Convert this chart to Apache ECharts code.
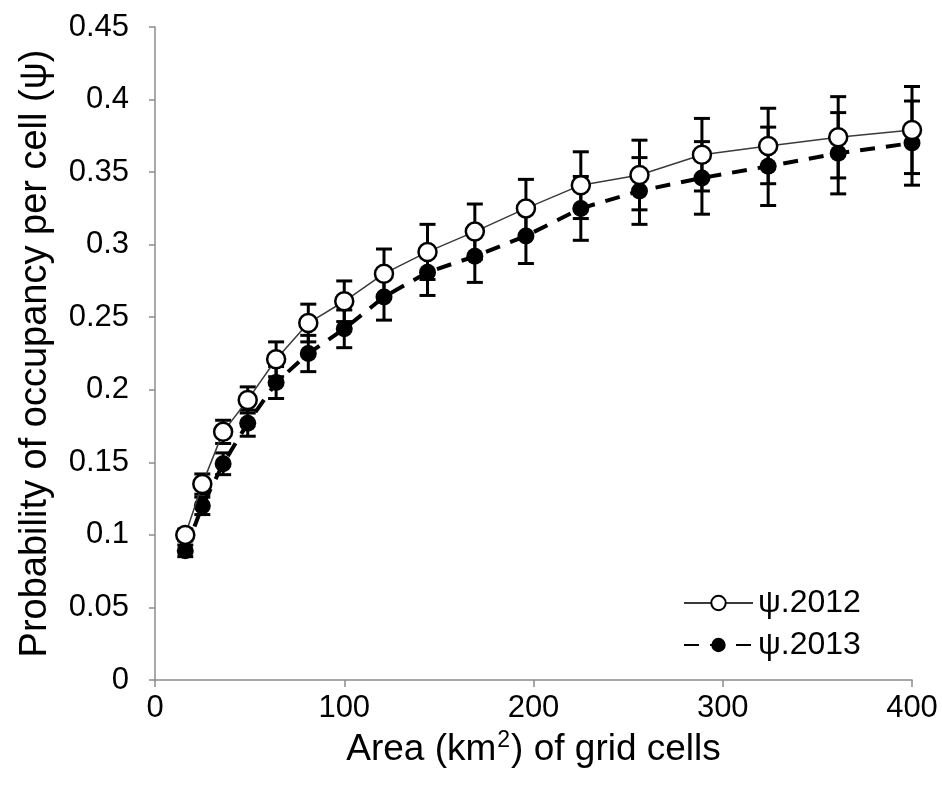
<!DOCTYPE html>
<html>
<head>
<meta charset="utf-8">
<script src="https://cdn.jsdelivr.net/npm/echarts@6/dist/echarts.min.js"></script>
<style>
  html, body { margin: 0; padding: 0; background: #fff; }
  #chart { width: 942px; height: 785px; }
</style>
</head>
<body>
<div id="chart"></div>
<script>
// Grid cell areas (km²)
const areas = [16, 25, 36, 49, 64, 81, 100, 121, 144, 169, 196, 225, 256, 289, 324, 361, 400];

// Occupancy estimates and their standard errors per survey year
const psi2012 = [0.100, 0.135, 0.171, 0.193, 0.221, 0.246, 0.261, 0.280, 0.295, 0.309, 0.325, 0.341, 0.348, 0.362, 0.368, 0.374, 0.379];
const se2012  = [0.004, 0.007, 0.008, 0.009, 0.012, 0.013, 0.014, 0.017, 0.019, 0.019, 0.020, 0.023, 0.024, 0.025, 0.026, 0.028, 0.030];
const psi2013 = [0.089, 0.120, 0.149, 0.177, 0.205, 0.225, 0.242, 0.264, 0.281, 0.292, 0.306, 0.325, 0.337, 0.346, 0.354, 0.363, 0.370];
const se2013  = [0.004, 0.006, 0.0075, 0.009, 0.011, 0.0125, 0.013, 0.016, 0.016, 0.018, 0.019, 0.022, 0.023, 0.025, 0.027, 0.028, 0.029];

const seriesNames = ['ψ.2012', 'ψ.2013'];
const xTickLabels = ['0', '100', '200', '300', '400'];
const yTickLabels = ['0', '0.05', '0.1', '0.15', '0.2', '0.25', '0.3', '0.35', '0.4', '0.45'];

const FONT = '"Liberation Sans", Arial, sans-serif';
const AXIS_GREY = '#8c8c8c';

const pairs = (ys) => areas.map((x, i) => [x, ys[i]]);
const bars = (ys, se) => areas.map((x, i) => [x, ys[i] - se[i], ys[i] + se[i]]);

// Vertical error bar with caps at both ends
function errorBar(params, api) {
  const x = api.value(0);
  const top = api.coord([x, api.value(2)]);
  const bot = api.coord([x, api.value(1)]);
  const half = 8;
  const style = { stroke: '#000', lineWidth: 3 };
  return {
    type: 'group',
    children: [
      { type: 'line', shape: { x1: top[0], y1: top[1], x2: bot[0], y2: bot[1] }, style },
      { type: 'line', shape: { x1: top[0] - half, y1: top[1], x2: top[0] + half, y2: top[1] }, style },
      { type: 'line', shape: { x1: bot[0] - half, y1: bot[1], x2: bot[0] + half, y2: bot[1] }, style }
    ]
  };
}

const chart = echarts.init(document.getElementById('chart'), null, { renderer: 'canvas' });

chart.setOption({
  animation: false,
  backgroundColor: '#fff',
  textStyle: { fontFamily: FONT, color: '#000' },
  grid: { left: 155, right: 30, top: 27, bottom: 105, containLabel: false },
  legend: {
    data: seriesNames,
    orient: 'vertical',
    left: 683,
    top: 587,
    padding: 0,
    itemWidth: 69,
    itemHeight: 18,
    itemGap: 10,
    textStyle: { fontFamily: FONT, fontSize: 32, color: '#000' }
  },
  xAxis: {
    type: 'value',
    min: 0,
    max: 400,
    interval: 100,
    name: '{n|Area (km}{sup|2}{n|) of grid cells}',
    nameLocation: 'middle',
    nameGap: 32,
    nameTextStyle: {
      rich: {
        n: { fontFamily: FONT, fontSize: 37, color: '#000', lineHeight: 42 },
        sup: { fontFamily: FONT, fontSize: 23, color: '#000', lineHeight: 42, verticalAlign: 'top', padding: [0, 1, 0, 1] }
      }
    },
    axisLine: { lineStyle: { color: AXIS_GREY, width: 1.5 } },
    axisTick: { show: true, inside: false, length: 7, lineStyle: { color: AXIS_GREY, width: 1.5 } },
    axisLabel: {
      margin: 13,
      fontFamily: FONT,
      fontSize: 31,
      color: '#000',
      formatter: (v) => xTickLabels[Math.round(v / 100)]
    },
    splitLine: { show: false }
  },
  yAxis: {
    type: 'value',
    min: 0,
    max: 0.45,
    interval: 0.05,
    name: 'Probability of occupancy per cell (ψ)',
    nameLocation: 'middle',
    nameGap: 100,
    nameTextStyle: { fontFamily: FONT, fontSize: 38, color: '#000' },
    axisLine: { show: true, lineStyle: { color: AXIS_GREY, width: 1.5 } },
    axisTick: { show: true, inside: false, length: 6, lineStyle: { color: AXIS_GREY, width: 1.5 } },
    axisLabel: {
      margin: 26,
      fontFamily: FONT,
      fontSize: 31,
      color: '#000',
      formatter: (v) => yTickLabels[Math.round(v / 0.05)]
    },
    splitLine: { show: false }
  },
  series: [
    {
      name: 'err2012',
      type: 'custom',
      renderItem: errorBar,
      data: bars(psi2012, se2012),
      z: 1,
      silent: true
    },
    {
      name: 'err2013',
      type: 'custom',
      renderItem: errorBar,
      data: bars(psi2013, se2013),
      z: 1,
      silent: true
    },
    {
      name: seriesNames[1],
      type: 'line',
      data: pairs(psi2013),
      symbol: 'circle',
      symbolSize: 17,
      lineStyle: { color: '#000', width: 4, type: [15, 11] },
      itemStyle: { color: '#000', borderColor: '#000', borderWidth: 0 },
      z: 3
    },
    {
      name: seriesNames[0],
      type: 'line',
      data: pairs(psi2012),
      symbol: 'circle',
      symbolSize: 18,
      lineStyle: { color: '#3a3a3a', width: 1.5 },
      itemStyle: { color: '#fff', borderColor: '#000', borderWidth: 2.5 },
      z: 4
    }
  ]
});
</script>
</body>
</html>
